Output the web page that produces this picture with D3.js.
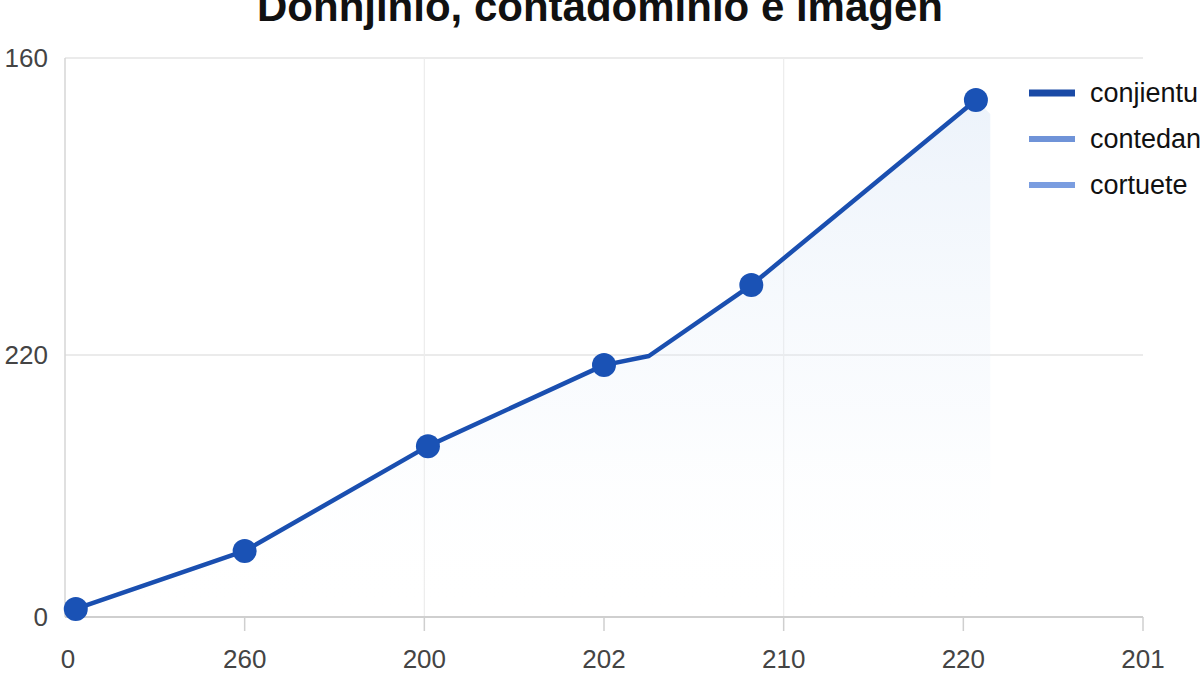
<!DOCTYPE html>
<html><head><meta charset="utf-8">
<script src="https://cdn.jsdelivr.net/npm/d3@7/dist/d3.min.js"></script>
<style>body{margin:0;background:#fff;}svg{display:block;}</style>
</head><body>
<svg id="c" width="1200" height="675"></svg>
<script>
const title = "Donnjinio, contadominio e imagen";
const xTickLabels = ["0","260","200","202","210","220","201"];
const yTickValues = [0, 75, 160];
const yTickLabels = ["0","220","160"];
const xPos = [0.06, 1.0, 2.02, 3.0, 3.25, 3.82, 5.07];
const yVals = [2.3, 18.9, 48.9, 72.1, 74.7, 95.0, 148.0];
const hasMarker = [1,1,1,1,0,1,1];
const legendLabels = ["conjientu","contedan","cortuete"];
const legendColors = ["#1a4aa6","#6f93d8","#7a9de0"];

const svg = d3.select("#c");
const x = d3.scaleLinear().domain([0,6]).range([65,1143]);
const y = d3.scaleLinear().domain([0,160]).range([617,58]);
const pts = xPos.map((d,i)=>({x:d,y:yVals[i],m:hasMarker[i]}));

const defs = svg.append("defs");
const g = defs.append("linearGradient").attr("id","fillg").attr("x1",0).attr("y1",0).attr("x2",0).attr("y2",1);
g.append("stop").attr("offset","0%").attr("stop-color","#d6e4f6").attr("stop-opacity",0.45);
g.append("stop").attr("offset","60%").attr("stop-color","#e6eff9").attr("stop-opacity",0.2);
g.append("stop").attr("offset","100%").attr("stop-color","#ffffff").attr("stop-opacity",0);

svg.append("g").selectAll("line").data(yTickValues.filter(v=>v>0)).join("line")
  .attr("x1",x(0)).attr("x2",x(6)).attr("y1",d=>y(d)).attr("y2",d=>y(d))
  .attr("stroke","#e4e4e4").attr("stroke-width",1.5);
svg.append("g").selectAll("line").data([2,4]).join("line")
  .attr("x1",d=>x(d)).attr("x2",d=>x(d)).attr("y1",y(160)).attr("y2",y(0))
  .attr("stroke","#ececec").attr("stroke-width",1.2);
svg.append("line").attr("x1",x(0)).attr("x2",x(0)).attr("y1",y(160)).attr("y2",y(0))
  .attr("stroke","#d6d6d6").attr("stroke-width",1.5);

const area = d3.area().x(d=>x(d.x)).y0(y(0)).y1(d=>y(d.y));
const areaPts = pts.concat([{x:5.15,y:yVals[yVals.length-1]-4}]);
svg.append("path").datum(areaPts).attr("d",area).attr("fill","url(#fillg)");

svg.append("line").attr("x1",x(0)).attr("x2",x(6)).attr("y1",y(0)).attr("y2",y(0))
  .attr("stroke","#cfcfcf").attr("stroke-width",1.8);
const xa = svg.append("g");
xa.selectAll("line").data(d3.range(1,7)).join("line")
  .attr("x1",d=>x(d)).attr("x2",d=>x(d)).attr("y1",y(0)).attr("y2",y(0)+14)
  .attr("stroke","#cfcfcf").attr("stroke-width",1.5);
xa.selectAll("text").data(xTickLabels).join("text")
  .attr("x",(d,i)=>x(i)+(i===0?3:0)).attr("y",668).attr("text-anchor","middle")
  .attr("font-family","Liberation Sans, Arial, sans-serif").attr("font-size",26)
  .attr("fill","#444").text(d=>d);
svg.append("g").selectAll("text").data(yTickValues).join("text")
  .attr("x",48).attr("y",d=>y(d)+9).attr("text-anchor","end")
  .attr("font-family","Liberation Sans, Arial, sans-serif").attr("font-size",26)
  .attr("fill","#444").text((d,i)=>yTickLabels[i]);

const line = d3.line().x(d=>x(d.x)).y(d=>y(d.y));
svg.append("path").datum(pts).attr("d",line).attr("fill","none")
  .attr("stroke","#1a4fb0").attr("stroke-width",4.5).attr("stroke-linejoin","round");
svg.append("g").selectAll("circle").data(pts.filter(d=>d.m)).join("circle")
  .attr("cx",d=>x(d.x)).attr("cy",d=>y(d.y)).attr("r",12).attr("fill","#1a52b5");

const lg = svg.append("g");
legendLabels.forEach((t,i)=>{
  const yy = 93 + i*46;
  lg.append("line").attr("x1",1029).attr("x2",1075).attr("y1",yy).attr("y2",yy)
    .attr("stroke",legendColors[i]).attr("stroke-width",i===0?7:6);
  lg.append("text").attr("x",1090).attr("y",yy+9)
    .attr("font-family","Liberation Sans, Arial, sans-serif").attr("font-size",27)
    .attr("fill","#111").text(t);
});

svg.append("text").attr("x",600).attr("y",21).attr("text-anchor","middle")
  .attr("font-family","Liberation Sans, Arial, sans-serif").attr("font-weight","bold")
  .attr("font-size",42).attr("fill","#111").text(title);
</script>
</body></html>
